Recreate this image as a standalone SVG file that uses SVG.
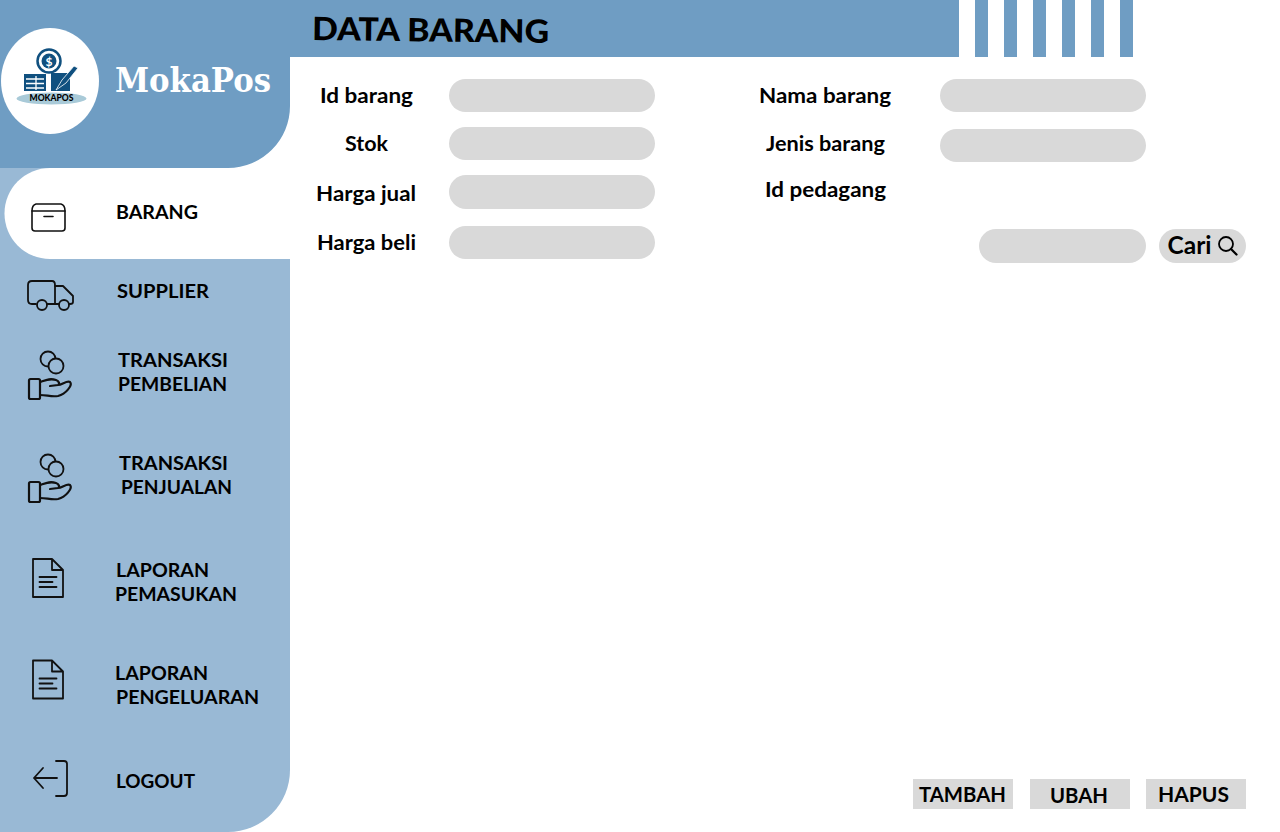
<svg xmlns="http://www.w3.org/2000/svg" width="1280" height="832" viewBox="0 0 1280 832">
<style>
text{font-family:"Lato","Open Sans","Liberation Sans",sans-serif;font-weight:700;fill:#000;}
.f{fill:#D9D9D9;}
.h{fill:#6F9DC3;}
.lb{font-size:21px;}
.nav{font-size:19px;}
.btn{font-size:20px;}
.ic{fill:none;stroke:#111;stroke-width:1.800;stroke-linecap:round;stroke-linejoin:round;}
.dk{fill:#10507F;}
</style>
<defs>
<g id="hand" class="ic">
<circle cx="48" cy="359" r="7.500"/><circle cx="56" cy="366" r="7.500" fill="#99B9D5"/>
<rect x="29" y="379" width="11" height="20" rx="1.500" stroke-width="2.200"/>
<path d="M40 382C46 380 50 378 56 380C59 381 60 384 58 385L50 386M58 385C62 385 67 380 70 382C73 385 66 394 58 396C51 397 47 395 40 395" stroke-width="2.200"/>
</g>
<g id="doc" class="ic" stroke-linecap="square">
<path d="M52 559H33V597H63V570L52 559V570H63"/>
<path d="M39.500 577H56.500M39.500 582H52.500M39.500 587H56.500"/>
</g>
</defs>
<rect width="1280" height="832" fill="#fff"/>
<g id="sidebar">
<path d="M0 168H290V770A62 62 0 0 1 228 832H0Z" fill="#99B9D5"/>
</g>
<g id="header">
<path class="h" d="M0 0H959V57H290V106A62 62 0 0 1 228 168H0Z"/>
<rect class="h" x="975" y="0" width="13" height="57"/>
<rect class="h" x="1004" y="0" width="13" height="57"/>
<rect class="h" x="1033" y="0" width="13" height="57"/>
<rect class="h" x="1062" y="0" width="13" height="57"/>
<rect class="h" x="1091" y="0" width="13" height="57"/>
<rect class="h" x="1120" y="0" width="13" height="57"/>
<text x="312" y="40" font-size="32" style="font-weight:900" textLength="237" lengthAdjust="spacingAndGlyphs" transform="rotate(0.7 312 40)">DATA BARANG</text>
</g>
<g id="logo">
<ellipse cx="50" cy="81" rx="49" ry="53" fill="#fff"/>
<ellipse cx="51.500" cy="98.500" rx="35" ry="6" fill="#A9CAD8"/>
<circle cx="49" cy="61" r="11.500" fill="none" stroke="#10507F" stroke-width="2.500"/>
<circle cx="49" cy="61" r="7.500" class="dk"/>
<text x="49" y="65.500" font-size="12" text-anchor="middle" style="fill:#fff">$</text>
<rect class="dk" x="24" y="74" width="22" height="17"/>
<path d="M26 79H44M26 83.500H44M26 88H44M36 76V90" stroke="#fff" stroke-width="1.300" fill="none"/>
<rect class="dk" x="51" y="73" width="19" height="18"/>
<path d="M56 90L62 80L74 66L78 68L66 83Z" fill="#10507F" stroke="#fff" stroke-width="0.800"/>
<text x="51.500" y="101" font-size="8.500" text-anchor="middle" textLength="44" lengthAdjust="spacingAndGlyphs" style="font-weight:900">MOKAPOS</text>
<text x="115" y="92" font-size="33" textLength="156" lengthAdjust="spacingAndGlyphs" style="font-family:'DejaVu Serif','Liberation Serif',serif;fill:#fff">MokaPos</text>
</g>
<g id="nav-barang">
<path d="M290 168H50A45.500 45.500 0 0 0 50 259H290Z" fill="#fff"/>
<g class="ic" style="stroke-width:1.600"><path d="M36 204H61Q65 205 65 211V228Q65 231 62 231H35Q32 231 32 228V211Q32 205 36 204Z"/><path d="M32 211H65M44 216.500H53"/></g>
<text class="nav" x="116" y="219" textLength="82" lengthAdjust="spacingAndGlyphs">BARANG</text>
</g>
<g id="nav-supplier">
<g class="ic"><path d="M36 304H32Q28 304 28 300V285Q28 281 32 281H52Q55 281 55 285V304H47"/><path d="M55 286H63L73 296V302Q73 304 70 304H69M59 304H55"/><circle cx="42" cy="305" r="5"/><circle cx="64" cy="305" r="5"/></g>
<text class="nav" x="117" y="298" textLength="92" lengthAdjust="spacingAndGlyphs">SUPPLIER</text>
</g>
<g id="nav-pembelian">
<use href="#hand"/>
<text class="nav" x="118" y="367" textLength="110" lengthAdjust="spacingAndGlyphs">TRANSAKSI</text>
<text class="nav" x="118" y="391" textLength="109" lengthAdjust="spacingAndGlyphs">PEMBELIAN</text>
</g>
<g id="nav-penjualan">
<use href="#hand" y="103"/>
<text class="nav" x="119" y="470" textLength="109" lengthAdjust="spacingAndGlyphs">TRANSAKSI</text>
<text class="nav" x="121" y="494" textLength="111" lengthAdjust="spacingAndGlyphs">PENJUALAN</text>
</g>
<g id="nav-pemasukan">
<use href="#doc"/>
<text class="nav" x="116" y="577" textLength="93" lengthAdjust="spacingAndGlyphs">LAPORAN</text>
<text class="nav" x="115" y="601" textLength="122" lengthAdjust="spacingAndGlyphs">PEMASUKAN</text>
</g>
<g id="nav-pengeluaran">
<use href="#doc" y="101.500"/>
<text class="nav" x="115" y="680" textLength="93" lengthAdjust="spacingAndGlyphs">LAPORAN</text>
<text class="nav" x="116" y="704" textLength="143" lengthAdjust="spacingAndGlyphs">PENGELUARAN</text>
</g>
<g id="nav-logout">
<g class="ic"><path d="M57 778H34M43 768L34 778L43 788"/><path d="M56 761H64Q67 761 67 764V793Q67 796 64 796H56"/></g>
<text class="nav" x="116" y="788" textLength="79" lengthAdjust="spacingAndGlyphs">LOGOUT</text>
</g>
<g id="field-id-barang">
<text class="lb" x="320" y="103" textLength="93" lengthAdjust="spacingAndGlyphs">Id barang</text>
<rect class="f" x="449" y="79" width="206" height="33" rx="16.500"/>
</g>
<g id="field-stok">
<text class="lb" x="345" y="151" textLength="43" lengthAdjust="spacingAndGlyphs">Stok</text>
<rect class="f" x="449" y="127" width="206" height="33" rx="16.500"/>
</g>
<g id="field-harga-jual">
<text class="lb" x="316" y="201" textLength="100" lengthAdjust="spacingAndGlyphs">Harga jual</text>
<rect class="f" x="449" y="175" width="206" height="34" rx="17"/>
</g>
<g id="field-harga-beli">
<text class="lb" x="317" y="250" textLength="99" lengthAdjust="spacingAndGlyphs">Harga beli</text>
<rect class="f" x="449" y="226" width="206" height="33" rx="16.500"/>
</g>
<g id="field-nama-barang">
<text class="lb" x="759" y="103" textLength="132" lengthAdjust="spacingAndGlyphs">Nama barang</text>
<rect class="f" x="940" y="79" width="206" height="33" rx="16.500"/>
</g>
<g id="field-jenis-barang">
<text class="lb" x="766" y="151" textLength="119" lengthAdjust="spacingAndGlyphs">Jenis barang</text>
<rect class="f" x="940" y="129" width="206" height="33" rx="16.500"/>
</g>
<g id="field-id-pedagang">
<text class="lb" x="765" y="197" textLength="121" lengthAdjust="spacingAndGlyphs">Id pedagang</text>
</g>
<g id="search">
<rect class="f" x="979" y="229" width="167" height="34" rx="17"/>
<rect class="f" x="1159" y="229" width="87" height="34" rx="17"/>
<text x="1167.500" y="254" font-size="24" textLength="44" lengthAdjust="spacingAndGlyphs">Cari</text>
<circle cx="1226" cy="244" r="7" fill="none" stroke="#000" stroke-width="1.800"/>
<path d="M1231 249L1236.500 254.500" stroke="#000" stroke-width="2.300" stroke-linecap="round"/>
</g>
<g id="btn-tambah">
<rect class="f" x="913" y="779" width="100" height="30"/>
<text class="btn" x="919" y="802" textLength="87" lengthAdjust="spacingAndGlyphs">TAMBAH</text>
</g>
<g id="btn-ubah">
<rect class="f" x="1030" y="779" width="100" height="30"/>
<text class="btn" x="1050" y="803" textLength="58" lengthAdjust="spacingAndGlyphs">UBAH</text>
</g>
<g id="btn-hapus">
<rect class="f" x="1146" y="779" width="100" height="30"/>
<text class="btn" x="1158" y="802" textLength="71" lengthAdjust="spacingAndGlyphs">HAPUS</text>
</g>
</svg>
